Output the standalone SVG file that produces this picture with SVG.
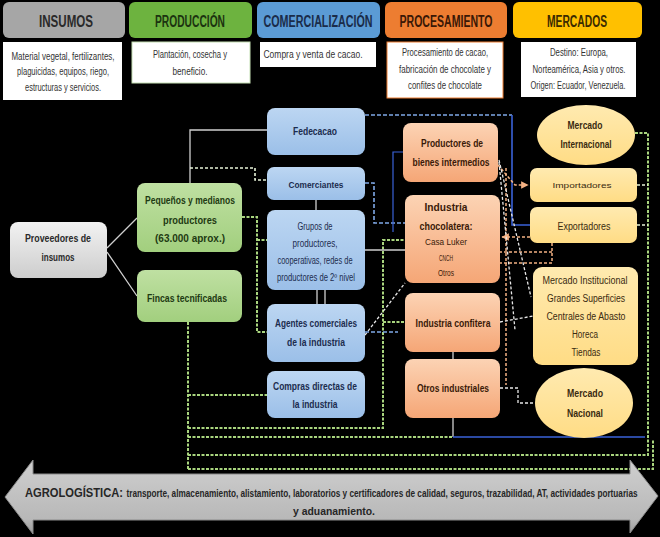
<svg xmlns="http://www.w3.org/2000/svg" width="660" height="537" viewBox="0 0 660 537">
<defs>
<linearGradient id="gGray" x1="0" y1="0" x2="0" y2="1"><stop offset="0" stop-color="#f2f2f2"/><stop offset="1" stop-color="#cdcdcd"/></linearGradient>
<linearGradient id="gGreen" x1="0" y1="0" x2="0" y2="1"><stop offset="0" stop-color="#bfe0a2"/><stop offset="1" stop-color="#a2cf7e"/></linearGradient>
<linearGradient id="gBlue" x1="0" y1="0" x2="0" y2="1"><stop offset="0" stop-color="#bcd6f2"/><stop offset="1" stop-color="#9bbfe8"/></linearGradient>
<linearGradient id="gOrange" x1="0" y1="0" x2="0" y2="1"><stop offset="0" stop-color="#fcd3b4"/><stop offset="1" stop-color="#f5a676"/></linearGradient>
<linearGradient id="gYellow" x1="0" y1="0" x2="0" y2="1"><stop offset="0" stop-color="#ffeab0"/><stop offset="1" stop-color="#ffdc85"/></linearGradient>
<linearGradient id="gArrow" x1="0" y1="0" x2="0" y2="1"><stop offset="0" stop-color="#cfcfcf"/><stop offset="0.8" stop-color="#b8b8b8"/><stop offset="1" stop-color="#9a9a9a"/></linearGradient>
<marker id="ah" viewBox="0 0 6 6" refX="5.5" refY="3" markerWidth="5" markerHeight="5" orient="auto"><path d="M0,0 L6,3 L0,6 z" fill="#f4b183"/></marker>
</defs>
<style>
text{font-family:"Liberation Sans Narrow","Liberation Sans",Arial,sans-serif;text-anchor:middle}
.hd{font-size:16px;font-weight:bold;fill:#2a2a2a}
.ds{font-size:10px;fill:#333}
.nb{font-size:11px;font-weight:bold}
.nr{font-size:10px}
.tg{fill:#1e3a12}.tb{fill:#1c2c4e}.to{fill:#3a1a08}.ty{fill:#3a2a10}.tk{fill:#2a2a2a}
.cw{fill:none;stroke:#cfcfcf;stroke-width:1.3}
.cg{fill:none;stroke:#a9d57e;stroke-width:2;stroke-dasharray:3 1.5}
.cgw{fill:none;stroke:#e6f2d8;stroke-width:1.6;stroke-dasharray:3 2}
.cb{fill:none;stroke:#3a62d8;stroke-width:1.6}
.cbd{fill:none;stroke:#7fa8e6;stroke-width:1.6;stroke-dasharray:4 2}
.co{fill:none;stroke:#f4b183;stroke-width:1.5;stroke-dasharray:3 2}
.cwd{fill:none;stroke:#e8e8e8;stroke-width:1.3;stroke-dasharray:3 2}
</style>
<rect x="0" y="0" width="660" height="537" fill="#000"/>

<g id="headers">
<rect x="3" y="2" width="122" height="36" rx="6" fill="#a6a6a6"/>
<text class="hd" x="66" y="27" textLength="54" lengthAdjust="spacingAndGlyphs">INSUMOS</text>
<rect x="129" y="2" width="123" height="36" rx="6" fill="#6db33f"/>
<text class="hd" x="190" y="27" textLength="70" lengthAdjust="spacingAndGlyphs" style="fill:#1c3310">PRODUCCIÓN</text>
<rect x="257" y="2" width="123" height="36" rx="6" fill="#5b9bd5"/>
<text class="hd" x="318" y="27" textLength="109" lengthAdjust="spacingAndGlyphs" style="fill:#1a2c4a">COMERCIALIZACIÓN</text>
<rect x="385" y="2" width="122" height="36" rx="6" fill="#ed7d31"/>
<text class="hd" x="446" y="27" textLength="93" lengthAdjust="spacingAndGlyphs" style="fill:#3a1806">PROCESAMIENTO</text>
<rect x="513" y="2" width="129" height="36" rx="6" fill="#ffc000"/>
<text class="hd" x="577" y="27" textLength="60" lengthAdjust="spacingAndGlyphs" style="fill:#3a2a00">MERCADOS</text>
</g>

<g id="descriptions">
<rect x="3" y="42" width="119" height="58" fill="#fff"/>
<text class="ds" x="63" y="60" textLength="103" lengthAdjust="spacingAndGlyphs">Material vegetal, fertilizantes,</text>
<text class="ds" x="63" y="75" textLength="92" lengthAdjust="spacingAndGlyphs">plaguicidas, equipos, riego,</text>
<text class="ds" x="63" y="91" textLength="76" lengthAdjust="spacingAndGlyphs">estructuras y servicios.</text>
<rect x="132" y="42" width="118" height="41" fill="#fff" stroke="#c5e0b4" stroke-width="1"/>
<text class="ds" x="190" y="58" textLength="74" lengthAdjust="spacingAndGlyphs">Plantación, cosecha y</text>
<text class="ds" x="190" y="75" textLength="35" lengthAdjust="spacingAndGlyphs">beneficio.</text>
<rect x="260" y="42" width="116" height="25" fill="#fff"/>
<text class="ds" x="313" y="58" textLength="99" lengthAdjust="spacingAndGlyphs">Compra y venta de cacao.</text>
<rect x="387" y="42" width="116" height="56" fill="#fff" stroke="#ed7d31" stroke-width="1"/>
<text class="ds" x="445" y="56" textLength="86" lengthAdjust="spacingAndGlyphs">Procesamiento de cacao,</text>
<text class="ds" x="445" y="73" textLength="92" lengthAdjust="spacingAndGlyphs">fabricación de chocolate y</text>
<text class="ds" x="445" y="89" textLength="74" lengthAdjust="spacingAndGlyphs">confites de chocolate</text>
<rect x="521" y="42" width="115" height="55" fill="#fff"/>
<text class="ds" x="579" y="56" textLength="58" lengthAdjust="spacingAndGlyphs">Destino: Europa,</text>
<text class="ds" x="579" y="73" textLength="93" lengthAdjust="spacingAndGlyphs">Norteamérica, Asia y otros.</text>
<text class="ds" x="578" y="89" textLength="95" lengthAdjust="spacingAndGlyphs">Origen: Ecuador, Venezuela.</text>
</g>

<g id="connectors">
<path class="cw" d="M107,248 L137,218 M107,252 L137,296"/>
<path class="cw" d="M190,183 V130 H267"/>
<path class="cgw" d="M190,168 H255 V180 H267"/>
<path class="cg" d="M242,217 H257 V332 H267 M257,240 H267"/>
<path class="cg" d="M188,322 V470"/>
<path class="cg" d="M188,395 H267"/>
<path class="cg" d="M188,428 H383 V240 H405 M383,322 H405"/>
<path class="cg" d="M188,437 H453"/>
<path class="cw" d="M453,418 V437"/>
<path class="cb" d="M453,437 H645"/>
<path class="cg" d="M188,455 H648 V133 H634"/>
<path class="cg" d="M188,469 H653 V440"/>
<path class="cgw" d="M637,185 H648 M637,225 H648"/>
<path class="cbd" d="M365,115 H512"/>
<path class="cb" d="M512,115 V225 H530"/>
<path class="cbd" d="M365,183 H374 V223 H405"/>
<path class="cb" d="M403,152 H393 V232" style="stroke-width:1.2"/>
<path class="cw" d="M365,250 H405"/>
<path class="cwd" d="M365,335 L405,283"/>
<path class="cbd" d="M365,332 H398"/>
<path class="cw" d="M316,200 V210 M317,290 V304 M325,290 V304 M453,352 V359"/>
<path class="co" d="M498,165 L515,185 H528" marker-end="url(#ah)"/>
<path class="co" d="M530,237 H502" marker-end="url(#ah)"/>
<path class="co" d="M552,243 V263 H500 M552,252 H500"/>
<path class="co" d="M506,168 V385"/>
<path class="cwd" d="M499,160 L531,297 M499,162 L515,330"/>
<path class="cwd" d="M500,322 L533,316"/>
<path class="cwd" d="M500,388 H518 V403 H535"/>
</g>

<g id="n-proveedores">
<rect x="10" y="222" width="97" height="56" rx="8" fill="url(#gGray)"/>
<text class="nb tk" x="58" y="242" textLength="66" lengthAdjust="spacingAndGlyphs">Proveedores de</text>
<text class="nb tk" x="58" y="261" textLength="33" lengthAdjust="spacingAndGlyphs">insumos</text>
</g>
<g id="n-pequenos">
<rect x="137" y="183" width="105" height="69" rx="8" fill="url(#gGreen)"/>
<text class="nb tg" x="190" y="204" textLength="90" lengthAdjust="spacingAndGlyphs">Pequeños y medianos</text>
<text class="nb tg" x="190" y="224" textLength="54" lengthAdjust="spacingAndGlyphs">productores</text>
<text class="nb tg" x="190" y="242" textLength="70" lengthAdjust="spacingAndGlyphs">(63.000 aprox.)</text>
</g>
<g id="n-fincas">
<rect x="137" y="270" width="105" height="52" rx="8" fill="url(#gGreen)"/>
<text class="nb tg" x="187" y="302" textLength="80" lengthAdjust="spacingAndGlyphs">Fincas tecnificadas</text>
</g>
<g id="n-fedecacao">
<rect x="267" y="108" width="98" height="47" rx="8" fill="url(#gBlue)"/>
<text class="nb tb" x="315" y="135" textLength="44" lengthAdjust="spacingAndGlyphs">Fedecacao</text>
</g>
<g id="n-comerciantes">
<rect x="267" y="167" width="98" height="33" rx="7" fill="url(#gBlue)"/>
<text class="nb tb" x="316" y="188" style="font-size:9px" textLength="55" lengthAdjust="spacingAndGlyphs">Comerciantes</text>
</g>
<g id="n-grupos">
<rect x="267" y="210" width="98" height="80" rx="8" fill="url(#gBlue)"/>
<text class="nr tb" x="315" y="230" textLength="35" lengthAdjust="spacingAndGlyphs">Grupos de</text>
<text class="nr tb" x="315" y="247" textLength="45" lengthAdjust="spacingAndGlyphs">productores,</text>
<text class="nr tb" x="315" y="264" textLength="75" lengthAdjust="spacingAndGlyphs">cooperativas, redes de</text>
<text class="nr tb" x="316" y="281" textLength="78" lengthAdjust="spacingAndGlyphs">productores de 2º nivel</text>
</g>
<g id="n-agentes">
<rect x="267" y="304" width="98" height="58" rx="8" fill="url(#gBlue)"/>
<text class="nb tb" x="316" y="327" textLength="82" lengthAdjust="spacingAndGlyphs">Agentes comerciales</text>
<text class="nb tb" x="316" y="346" textLength="58" lengthAdjust="spacingAndGlyphs">de la industria</text>
</g>
<g id="n-compras">
<rect x="267" y="371" width="98" height="47" rx="8" fill="url(#gBlue)"/>
<text class="nb tb" x="315" y="390" textLength="84" lengthAdjust="spacingAndGlyphs">Compras directas de</text>
<text class="nb tb" x="315" y="408" textLength="45" lengthAdjust="spacingAndGlyphs">la industria</text>
</g>
<g id="n-bienes">
<rect x="403" y="123" width="95" height="59" rx="8" fill="url(#gOrange)"/>
<text class="nb to" x="452" y="147" textLength="62" lengthAdjust="spacingAndGlyphs">Productores de</text>
<text class="nb to" x="451" y="166" textLength="77" lengthAdjust="spacingAndGlyphs">bienes intermedios</text>
</g>
<g id="n-chocolatera">
<rect x="405" y="195" width="95" height="88" rx="8" fill="url(#gOrange)"/>
<text class="nb to" x="446" y="211" textLength="43" lengthAdjust="spacingAndGlyphs">Industria</text>
<text class="nb to" x="446" y="230" textLength="53" lengthAdjust="spacingAndGlyphs">chocolatera:</text>
<text class="nr to" x="446" y="245" style="font-size:9px" textLength="42" lengthAdjust="spacingAndGlyphs">Casa Luker</text>
<text class="nr to" x="446" y="261" style="font-size:9px" textLength="14" lengthAdjust="spacingAndGlyphs">CNCH</text>
<text class="nr to" x="446" y="276" style="font-size:9px" textLength="16" lengthAdjust="spacingAndGlyphs">Otros</text>
</g>
<g id="n-confitera">
<rect x="405" y="293" width="95" height="59" rx="8" fill="url(#gOrange)"/>
<text class="nb to" x="453" y="327" textLength="75" lengthAdjust="spacingAndGlyphs">Industria confitera</text>
</g>
<g id="n-otros">
<rect x="405" y="359" width="95" height="59" rx="8" fill="url(#gOrange)"/>
<text class="nb to" x="453" y="392" textLength="72" lengthAdjust="spacingAndGlyphs">Otros industriales</text>
</g>
<g id="n-internacional">
<ellipse cx="586" cy="135" rx="49" ry="30" fill="url(#gYellow)"/>
<text class="nb ty" x="585" y="129" textLength="35" lengthAdjust="spacingAndGlyphs">Mercado</text>
<text class="nb ty" x="586" y="148" textLength="51" lengthAdjust="spacingAndGlyphs">Internacional</text>
</g>
<g id="n-importadores">
<rect x="530" y="168" width="107" height="34" rx="7" fill="url(#gYellow)"/>
<text class="nr ty" x="582" y="188" style="font-size:8px" textLength="59" lengthAdjust="spacingAndGlyphs">Importadores</text>
</g>
<g id="n-exportadores">
<rect x="530" y="207" width="107" height="36" rx="7" fill="url(#gYellow)"/>
<text class="nr ty" x="584" y="230" textLength="53" lengthAdjust="spacingAndGlyphs">Exportadores</text>
</g>
<g id="n-institucional">
<rect x="533" y="267" width="105" height="98" rx="9" fill="url(#gYellow)"/>
<text class="nr ty" x="585" y="284" textLength="85" lengthAdjust="spacingAndGlyphs">Mercado Institucional</text>
<text class="nr ty" x="586" y="302" textLength="78" lengthAdjust="spacingAndGlyphs">Grandes Superficies</text>
<text class="nr ty" x="586" y="320" textLength="79" lengthAdjust="spacingAndGlyphs">Centrales de Abasto</text>
<text class="nr ty" x="585" y="338" textLength="26" lengthAdjust="spacingAndGlyphs">Horeca</text>
<text class="nr ty" x="586" y="356" textLength="29" lengthAdjust="spacingAndGlyphs">Tiendas</text>
</g>
<g id="n-nacional">
<ellipse cx="584" cy="403" rx="49" ry="35" fill="url(#gYellow)"/>
<text class="nb ty" x="585" y="397" textLength="36" lengthAdjust="spacingAndGlyphs">Mercado</text>
<text class="nb ty" x="585" y="417" textLength="36" lengthAdjust="spacingAndGlyphs">Nacional</text>
</g>

<g id="n-agrologistica">
<polygon points="5,497 33,460 33,474 630,474 630,460 658,496 630,533 630,520 33,520 33,534" fill="url(#gArrow)" stroke="#8a8a8a" stroke-width="1"/>
<text x="74" y="497" style="font-size:12px;font-weight:bold;fill:#262626" textLength="98" lengthAdjust="spacingAndGlyphs">AGROLOGÍSTICA:</text>
<text x="382" y="497" style="font-size:10px;font-weight:bold;fill:#262626" textLength="511" lengthAdjust="spacingAndGlyphs">transporte, almacenamiento, alistamiento, laboratorios y certificadores de calidad, seguros, trazabilidad, AT, actividades portuarias</text>
<text x="334" y="515" style="font-size:10px;font-weight:bold;fill:#262626" textLength="82" lengthAdjust="spacingAndGlyphs">y aduanamiento.</text>
</g>
</svg>
